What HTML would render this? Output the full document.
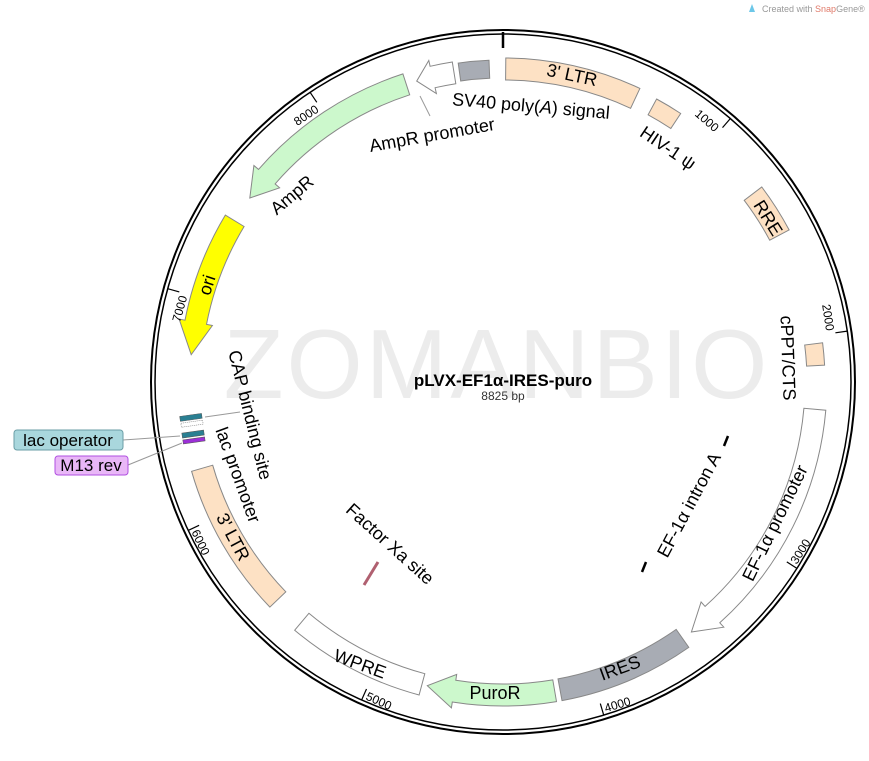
<!DOCTYPE html>
<html><head><meta charset="utf-8"><style>
body{margin:0;background:#fff;width:869px;height:761px;overflow:hidden}
svg{display:block;font-family:"Liberation Sans","DejaVu Sans",sans-serif}
.f{font-size:18px;fill:#000}
.t{font-size:12px;fill:#000}
</style></head><body>
<svg id="s" width="869" height="761" viewBox="0 0 869 761">
<text x="762" y="12" font-size="9" fill="#999">Created with <tspan fill="#e07a6a">Snap</tspan>Gene®</text>
<path d="M749 12 L752 4 L755 12 Z" fill="#6cc7e8"/>
<text x="497" y="398" text-anchor="middle" font-size="98" fill="#ececec" letter-spacing="3">ZOMANBIO</text>
<circle cx="503" cy="382" r="352" fill="none" stroke="#000" stroke-width="2"/>
<circle cx="503" cy="382" r="348" fill="none" stroke="#000" stroke-width="1.5"/>
<line x1="503" y1="32" x2="503" y2="48" stroke="#000" stroke-width="2.5"/>
<g id="feat"></g>
<g id="ticks"></g>
<g class="t">
<text transform="rotate(40.8 503 382)" x="500" y="55" text-anchor="end">1000</text>
<text transform="rotate(81.6 503 382)" x="500" y="55" text-anchor="end">2000</text>
<text transform="rotate(-57.6 503 382)" x="506" y="728" text-anchor="start">3000</text>
<text transform="rotate(-16.8 503 382)" x="506" y="728" text-anchor="start">4000</text>
<text transform="rotate(24 503 382)" x="506" y="728" text-anchor="start">5000</text>
<text transform="rotate(64.8 503 382)" x="506" y="728" text-anchor="start">6000</text>
<text transform="rotate(-74.4 503 382)" x="500" y="55" text-anchor="end">7000</text>
<text transform="rotate(-33.6 503 382)" x="500" y="55" text-anchor="end">8000</text>
</g>
<text class="f" transform="rotate(12 572 75)" x="572" y="81" text-anchor="middle">3' LTR</text>
<text class="f" transform="rotate(5 531 106)" x="531" y="112" text-anchor="middle">SV40 poly(<tspan font-style="italic">A</tspan>) signal</text>
<text class="f" transform="rotate(-10 432 135)" x="432" y="141" text-anchor="middle">AmpR promoter</text>
<text class="f" transform="rotate(34 668 148)" x="668" y="154" text-anchor="middle">HIV-1 ψ</text>
<text class="f" transform="rotate(-40 292 195)" x="292" y="201" text-anchor="middle">AmpR</text>
<text class="f" transform="rotate(58 768 218)" x="768" y="224" text-anchor="middle">RRE</text>
<text class="f" transform="rotate(-72 207 285)" x="207" y="291" text-anchor="middle">ori</text>
<text class="f" transform="rotate(88 788 358)" x="788" y="364" text-anchor="middle">cPPT/CTS</text>
<text class="f" transform="rotate(76 250 415)" x="250" y="421" text-anchor="middle">CAP binding site</text>
<text class="f" transform="rotate(70 238 475)" x="238" y="481" text-anchor="middle">lac promoter</text>
<text class="f" transform="rotate(-62 689 505)" x="689" y="511" text-anchor="middle">EF-1α intron A</text>
<text class="f" transform="rotate(-64 775 523)" x="775" y="529" text-anchor="middle">EF-1α promoter</text>
<text class="f" transform="rotate(62 233 537)" x="233" y="543" text-anchor="middle">3' LTR</text>
<text class="f" transform="rotate(42 390 544)" x="390" y="550" text-anchor="middle">Factor Xa site</text>
<text class="f" transform="rotate(-20 620 668)" x="620" y="674" text-anchor="middle">IRES</text>
<text class="f" x="495" y="699" text-anchor="middle">PuroR</text>
<text class="f" transform="rotate(20 360 664)" x="360" y="670" text-anchor="middle">WPRE</text>
<text x="503" y="386" text-anchor="middle" font-size="17" font-weight="bold">pLVX-EF1α-IRES-puro</text>
<text x="503" y="400" text-anchor="middle" font-size="12" fill="#333">8825 bp</text>
<rect x="180" y="415" width="22" height="5" fill="#2a7f92" stroke="#555" stroke-width=".5" transform="rotate(-8 190 418)"/>
<rect x="181" y="422" width="22" height="4" fill="#fff" stroke="#555" stroke-width=".5" stroke-dasharray="1 1" transform="rotate(-8 190 424)"/>
<rect x="182" y="432" width="22" height="5" fill="#2a7f92" stroke="#555" stroke-width=".5" transform="rotate(-8 190 434)"/>
<rect x="183" y="439" width="22" height="4" fill="#9b2fd6" stroke="#555" stroke-width=".5" transform="rotate(-8 190 441)"/>
<line x1="123" y1="440" x2="180" y2="436" stroke="#999"/>
<line x1="128" y1="465" x2="182" y2="443" stroke="#999"/>
<line x1="205" y1="417" x2="240" y2="412" stroke="#999"/>
<rect x="14" y="430" width="109" height="20" rx="3" fill="#a9d7dd" stroke="#6a9ea6"/>
<text x="68" y="446" text-anchor="middle" font-size="17">lac operator</text>
<rect x="55" y="456" width="73" height="19" rx="3" fill="#e9b7f7" stroke="#b04fe0"/>
<text x="91" y="471" text-anchor="middle" font-size="17">M13 rev</text>
<line x1="364" y1="585" x2="378" y2="562" stroke="#b06070" stroke-width="3"/>
<line x1="724" y1="446" x2="728" y2="436" stroke="#000" stroke-width="2.5"/>
<line x1="642" y1="572" x2="646" y2="562" stroke="#000" stroke-width="2.5"/>
<line x1="420" y1="96" x2="430" y2="116" stroke="#999"/>
</svg>
<script>
var cx=503,cy=382,R1=302,R2=324;
function p(r,a){a=a*Math.PI/180;return (cx+r*Math.sin(a)).toFixed(1)+' '+(cy-r*Math.cos(a)).toFixed(1);}
function band(a1,a2,r1,r2){var l=(a2-a1)>180?1:0;
return 'M'+p(r2,a1)+' A'+r2+' '+r2+' 0 '+l+' 1 '+p(r2,a2)+' L'+p(r1,a2)+' A'+r1+' '+r1+' 0 '+l+' 0 '+p(r1,a1)+' Z';}
function arrowCW(a1,a2,h){var b=a2-h,rm=(R1+R2)/2;
return 'M'+p(R2,a1)+' A'+R2+' '+R2+' 0 0 1 '+p(R2,b)+' L'+p(R2+6,b)+' L'+p(rm,a2)+' L'+p(R1-6,b)+' L'+p(R1,b)+' A'+R1+' '+R1+' 0 0 0 '+p(R1,a1)+' Z';}
function arrowCCW(a1,a2,h){var b=a1+h,rm=(R1+R2)/2;
return 'M'+p(R2,a2)+' A'+R2+' '+R2+' 0 0 0 '+p(R2,b)+' L'+p(R2+6,b)+' L'+p(rm,a1)+' L'+p(R1-6,b)+' L'+p(R1,b)+' A'+R1+' '+R1+' 0 0 1 '+p(R1,a2)+' Z';}
var peach='#fde1c4',gray='#a8acb4',green='#ccf8cc';
var F=[
[band(0.5,25,R1,R2),peach],[band(28.5,33.5,R1+2,R2-2),peach],[band(53,62,R1,R2),peach],[band(83,87,R1+2,R2-2),peach],
[arrowCW(95,143,5),'#fff'],[band(145,169.5,R1,R2),gray],[arrowCW(170.5,194,5),green],[band(195,220,R1,R2),'#fff'],
[band(226,254,R1,R2),peach],[arrowCCW(275,301,6),'#ffff00'],[arrowCCW(306,342,5),green],[arrowCCW(344,351,3),'#fff'],[band(352,357.5,R1+2,R2-2),gray]];
var g=document.getElementById('feat'),h='';
F.forEach(function(f){h+='<path d="'+f[0]+'" fill="'+f[1]+'" stroke="#888" stroke-width="1"/>';});
g.innerHTML=h;
var t='';for(var i=1;i<=8;i++){var a=i*1000/8825*360;t+='<path d="M'+p(348,a)+' L'+p(336,a)+'" stroke="#000" stroke-width="1.2"/>';}
document.getElementById('ticks').innerHTML=t;
</script>
</body></html>
